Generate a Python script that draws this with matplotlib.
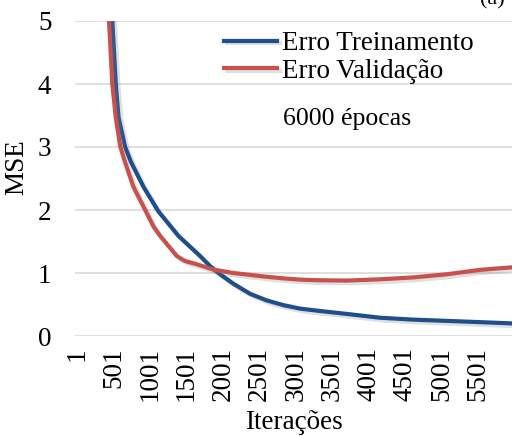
import matplotlib.pyplot as plt
import matplotlib.patheffects as pe

# iterations / MSE
it_treino = [1, 300, 400, 485, 532, 570, 660, 742, 911, 1116, 1391, 1689, 1826, 1963,
             2146, 2375, 2604, 2832, 3061, 3312, 3705, 4158, 4611, 5077, 5530, 5969]
mse_treino = [40.0, 10.0, 6.8, 5.0, 4.0, 3.47, 3.0, 2.76, 2.37, 1.98, 1.59, 1.27, 1.11, 0.98,
              0.83, 0.67, 0.565, 0.49, 0.435, 0.40, 0.35, 0.29, 0.26, 0.24, 0.22, 0.20]

it_valid = [1, 280, 370, 440, 485, 532, 595, 660, 773, 944, 1048, 1140, 1369, 1483, 1640,
            1870, 2146, 2375, 2604, 2832, 3061, 3312, 3705, 4158, 4611, 5077, 5530, 5969]
mse_valid = [40.0, 9.5, 6.5, 5.0, 4.0, 3.47, 3.0, 2.76, 2.37, 1.98, 1.74, 1.59, 1.27, 1.19, 1.14,
             1.055, 1.0, 0.97, 0.94, 0.915, 0.895, 0.885, 0.88, 0.90, 0.93, 0.98, 1.05, 1.09]

xticks = list(range(1, 5502, 500))
yticks = [0, 1, 2, 3, 4, 5]

plt.rcParams['font.family'] = ['Liberation Serif', 'DejaVu Serif']
fs = 19.5

fig = plt.figure(figsize=(5.12, 4.36), dpi=100)
ax = fig.add_axes([75 / 512, 1 - 336 / 436, 1 - 75 / 512, 315 / 436])

sombra = [pe.SimpleLineShadow(offset=(2, -2), alpha=0.25, shadow_color='gray'), pe.Normal()]
ax.plot(it_treino, mse_treino, color='#1F4E8C', lw=3, label='Erro Treinamento',
        path_effects=sombra, zorder=3)
ax.plot(it_valid, mse_valid, color='#C8504D', lw=3, label='Erro Validação',
        path_effects=sombra, zorder=3)

ax.set_xlim(-27, 5969)
ax.set_ylim(0, 5)
ax.set_xticks(xticks)
ax.set_xticklabels([str(t) for t in xticks], rotation=90, fontsize=fs)
ax.set_yticks(yticks)
ax.set_yticklabels([str(t) for t in yticks], fontsize=fs)
ax.tick_params(length=0)
ax.tick_params(axis='x', pad=8)
ax.tick_params(axis='y', pad=17)
ax.grid(axis='y', color='#d9d9d9', lw=1.2)
ax.set_axisbelow(True)
for s in ax.spines.values():
    s.set_visible(False)

ax.set_ylabel('MSE', fontsize=fs)
ax.yaxis.set_label_coords(-0.105, 0.537)
ax.set_xlabel('Iterações', fontsize=fs, labelpad=6)

leg = ax.legend(loc='upper left', bbox_to_anchor=(224 / 512, 1 - 31 / 436),
                bbox_transform=fig.transFigure, frameon=False, fontsize=fs,
                handlelength=1.95, handletextpad=0.2, borderpad=0, borderaxespad=0,
                labelspacing=0.11)
ax.text(283 / 512, 1 - 125 / 436, '6000 épocas', transform=fig.transFigure,
        fontsize=18.5, va='baseline')
fig.text(492 / 512, 1.0, '(a)', fontsize=16, ha='center', va='center')

fig.savefig('out.png', dpi=100)
